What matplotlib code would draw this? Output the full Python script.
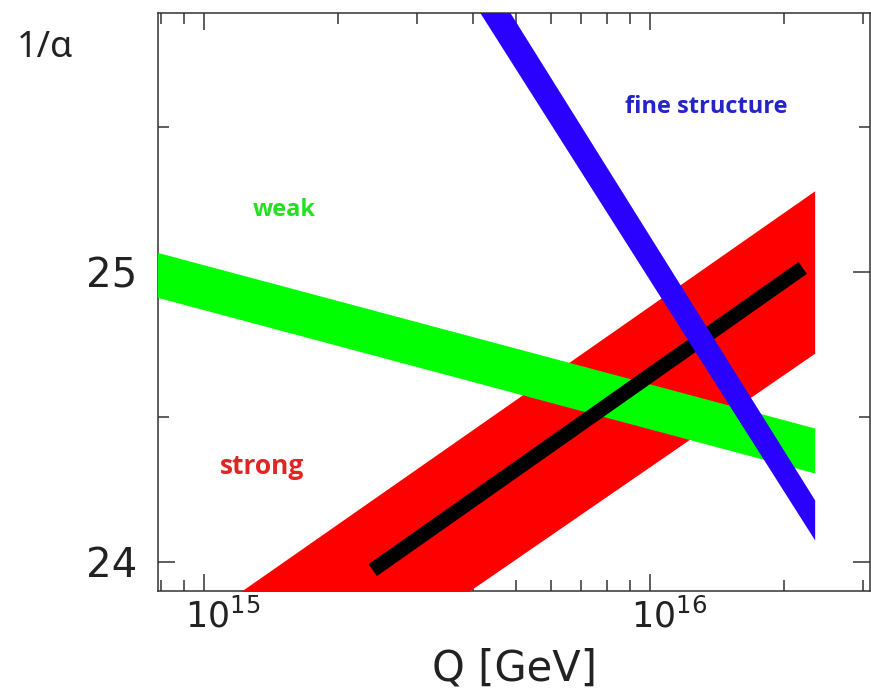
import numpy as np
import matplotlib
matplotlib.use("Agg")
import matplotlib.pyplot as plt
import matplotlib.ticker as mticker
import matplotlib.transforms as mtrans

# band edges (Q in GeV, 1/alpha)
green_q = [7.8e14, 2.34e16]
green_lo = [24.914, 24.307]
green_hi = [25.069, 24.462]

red_q = [1.09e15, 2.34e16]
red_lo = [23.31, 24.72]
red_hi = [23.85, 25.28]

black_q = [2.39e15, 2.20e16]
black_v = [23.972, 25.014]

blue_q = [4.16e15, 2.34e16]
blue_lo = [25.893, 24.076]
blue_hi = [26.059, 24.214]

labels = ["weak", "fine structure", "strong"]
label_q = [1.516e15, 1.335e16, 1.346e15]
label_v = [25.214, 25.569, 24.331]
label_col = ["#22e022", "#2424c8", "#e42424"]
label_size = [17, 17, 19]

plt.rcParams['font.family'] = ['DejaVu Sans']
plt.rcParams['mathtext.fontset'] = 'dejavusans'

fig = plt.figure(figsize=(8.71, 6.90), dpi=100)
ax = fig.add_axes([158/871, 99/690, 712/871, 578/690])

ax.fill_between(red_q, red_lo, red_hi, color="#ff0000", lw=0, zorder=3)
ax.fill_between(green_q, green_lo, green_hi, color="#00ff00", lw=0, zorder=3.1)
ax.plot(black_q, black_v, color="black", lw=10.5, solid_capstyle="butt", zorder=3.2)
ax.fill_between(blue_q, blue_lo, blue_hi, color="#2a00ff", lw=0, zorder=3.3)

for t, q, v, c, s in zip(labels, label_q, label_v, label_col, label_size):
    ax.text(q, v, t, color=c, fontsize=s, family="Open Sans", weight="bold",
            ha="center", va="center", zorder=4)

ax.set_xscale("log")
ax.set_xlim(10**14.8969, 10**16.4933)
ax.set_ylim(23.900, 25.893)

ax.yaxis.set_major_locator(mticker.FixedLocator([24, 25]))
ax.yaxis.set_minor_locator(mticker.MultipleLocator(0.5))
ax.xaxis.set_major_locator(mticker.LogLocator(base=10))
ax.xaxis.set_minor_locator(mticker.LogLocator(base=10, subs=np.arange(2, 10)))
ax.xaxis.set_minor_formatter(mticker.NullFormatter())

ax.tick_params(which="both", direction="in", top=True, right=True,
               width=1.1, color="#333333")
ax.tick_params(which="major", length=12)
ax.tick_params(which="minor", length=8)
ax.tick_params(axis="y", which="major", labelsize=29, pad=15, labelcolor="#222222")
ax.tick_params(axis="x", which="major", labelsize=25, pad=5, labelcolor="#222222")

for sp in ax.spines.values():
    sp.set_linewidth(1.1)
    sp.set_color("#333333")

# the "10" part sits on the tick, the exponent hangs to the right
shift = mtrans.ScaledTranslation(19/100, 0, fig.dpi_scale_trans)
for lab in ax.get_xticklabels():
    lab.set_transform(lab.get_transform() + shift)

ax.set_xlabel("Q [GeV]", fontsize=30, color="#222222")
ax.xaxis.set_label_coords(0.5, -0.098)

fig.text(17/871, 1 - 48/690, "1/\u03b1", fontsize=26, family="Noto Sans",
         ha="left", va="center", color="#222222")

fig.savefig("out.png", dpi=100)
